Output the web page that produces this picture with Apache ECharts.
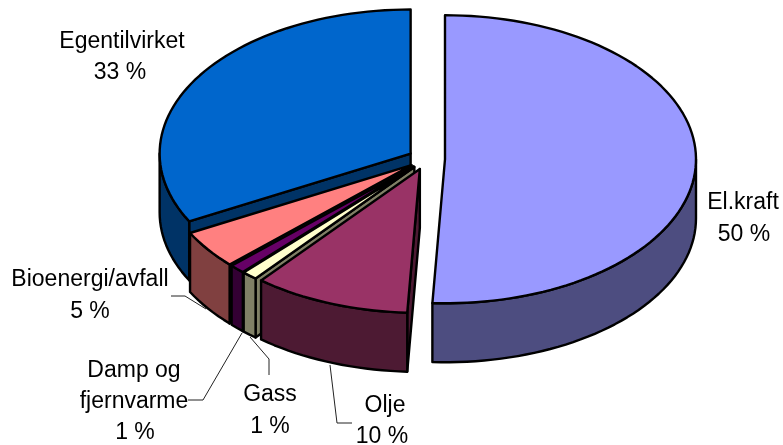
<!DOCTYPE html>
<html><head><meta charset="utf-8">
<style>html,body{margin:0;padding:0;background:#fff}#c{width:783px;height:445px}</style>
<script src="https://cdn.jsdelivr.net/npm/echarts@6/dist/echarts.min.js"></script>
</head><body><div id="c"></div>
<script>
// Data, clockwise from 12 o'clock
const categories = ['El.kraft','Olje','Gass','Damp og fjernvarme','Bioenergi/avfall','Egentilvirket'];
const values = [50.8,10.1,1.0,1.0,4.3,32.8];
const percentLabels = ['50 %','10 %','1 %','1 %','5 %','33 %'];

// Styles and layout
const topColors = ['#9999FF','#993366','#FFFFCC','#660066','#FF8080','#0066CC'];
const sideColors = ['#4D4D80','#4D1A33','#808066','#330033','#804040','#003366'];
const labelLines = [
  [['El.kraft',743,203],['50 %',744,235]],
  [['Olje',385,406],['10 %',382,437]],
  [['Gass',270,395],['1 %',270,427]],
  [['Damp og',134,371],['fjernvarme',134,402],['1 %',135,433]],
  [['Bioenergi/avfall',90,280],['5 %',90,312]],
  [['Egentilvirket',122,42],['33 %',120,73]]
];
const leaders = [
  null,
  [[330,365],[337,423],[352,423]],
  [[250,337],[269,359],[269,375]],
  [[242,333],[203,400],[188,400]],
  [[171,296],[185,296],[206,309]],
  null
];
const G = {cx:426.5, cy:159, rx:251, ry:144, depth:59, explode:18.5};
const FONT = '23px "Liberation Sans", Arial, sans-serif';

const total = values.reduce((a,b)=>a+b,0);
const starts = [];
values.reduce((acc,v,i)=>{starts[i]=acc;return acc+v;},0);

function pt(c,deg,dz){
  const t=deg*Math.PI/180;
  return [c[0]+G.rx*Math.sin(t), c[1]-G.ry*Math.cos(t)+(dz||0)];
}
function arc(c,a,b,dz){
  const out=[];
  const n=Math.max(2,Math.ceil(Math.abs(b-a)/2));
  for(let i=0;i<=n;i++) out.push(pt(c,a+(b-a)*i/n,dz));
  return out;
}
const stroke={stroke:'#000',lineWidth:2.4,lineJoin:'round'};
function poly(points,fill){
  return {type:'polygon',shape:{points},style:Object.assign({fill},stroke)};
}
function renderItem(params,api){
  const i=api.value(0);
  const v=api.value(1);
  const a=starts[i]/total*360, b=(starts[i]+v)/total*360;
  const mid=(a+b)/2*Math.PI/180;
  const c=[G.cx+G.explode*Math.sin(mid), G.cy-G.explode*G.ry/G.rx*Math.cos(mid)];
  const side=sideColors[i], d=G.depth;
  const ch=[];
  // cut wall on the slice's starting edge, visible on the lower-left half
  if(a>90 && a<270){
    const p=pt(c,a);
    ch.push(poly([c,p,[p[0],p[1]+d],[c[0],c[1]+d]],side));
  }
  // outer rim: only the part facing the viewer
  const ra=Math.max(a,90), rb=Math.min(b,270);
  if(rb>ra){
    const up=arc(c,ra,rb,0), down=arc(c,rb,ra,d);
    ch.push(poly(up.concat(down),side));
  }
  // top face
  ch.push(poly([c].concat(arc(c,a,b,0)),topColors[i]));
  // leader line
  if(leaders[i]) ch.push({type:'polyline',shape:{points:leaders[i]},style:{fill:null,stroke:'#222',lineWidth:1}});
  // labels
  labelLines[i].forEach(l=>ch.push({type:'text',z2:10,style:{text:l[0],x:l[1],y:l[2],font:FONT,fill:'#000',align:'center',verticalAlign:'middle'}}));
  return {type:'group',children:ch};
}
// Back-to-front painting order
const drawOrder=[5,4,3,2,1,0];
const chart=echarts.init(document.getElementById('c'),null,{renderer:'canvas'});
chart.setOption({
  animation:false,
  series:[{
    type:'custom',
    coordinateSystem:'none',
    renderItem,
    encode:{itemName:2},
    data:drawOrder.map(i=>[i,values[i],categories[i],percentLabels[i]])
  }]
});
</script></body></html>
